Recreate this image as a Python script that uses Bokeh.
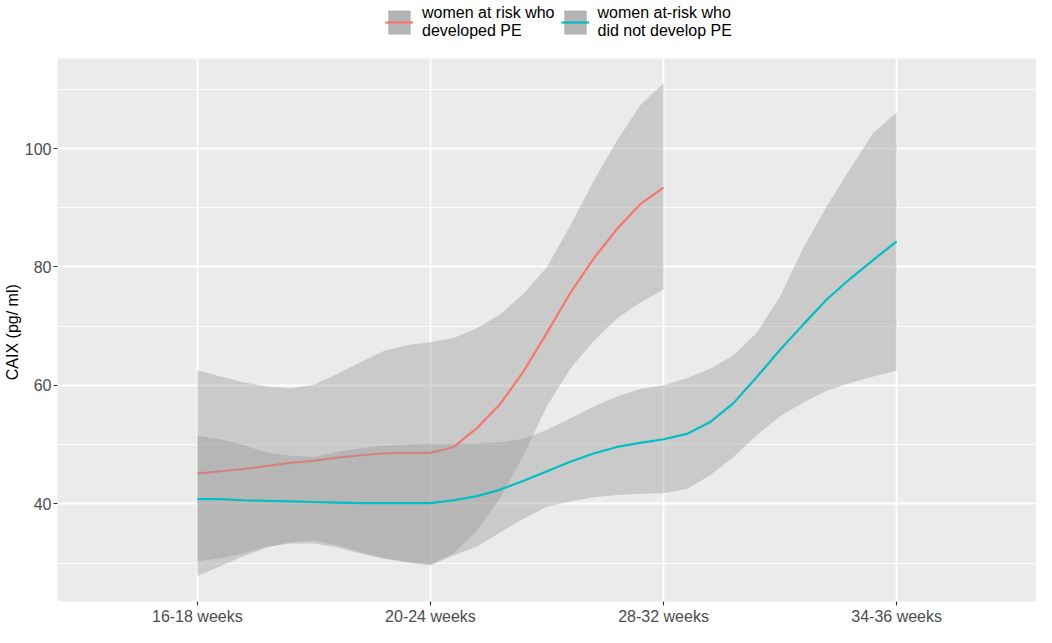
from bokeh.plotting import figure
from bokeh.layouts import column
from bokeh.models import Range1d, FixedTicker, Legend, LegendItem, ColumnDataSource
from bokeh.embed import file_html
from bokeh.resources import INLINE

# ---- data ----
categories = ["16-18 weeks", "20-24 weeks", "28-32 weeks", "34-36 weeks"]
cat_pos = [1, 2, 3, 4]

# women at risk who developed PE (smoothed fit and confidence band)
x_pe = [1.0, 1.1, 1.2, 1.3, 1.4, 1.5, 1.6, 1.7, 1.8, 1.9, 2.0,
        2.1, 2.2, 2.3, 2.4, 2.5, 2.6, 2.7, 2.8, 2.9, 3.0]
pe_fit = [45.1, 45.5, 45.9, 46.4, 46.9, 47.3, 47.8, 48.2, 48.5, 48.6, 48.6,
          49.6, 52.8, 56.9, 62.4, 68.9, 75.6, 81.4, 86.4, 90.6, 93.4]
pe_upper = [62.5, 61.5, 60.5, 59.8, 59.5, 60.1, 61.9, 63.9, 65.8, 66.8, 67.3,
            68.0, 69.7, 72.0, 75.5, 80.0, 87.0, 94.5, 101.3, 107.3, 111.0]
pe_lower = [27.8, 29.5, 31.2, 32.6, 33.5, 33.8, 33.0, 31.8, 30.8, 30.2, 29.8,
            31.6, 35.5, 41.0, 48.3, 56.5, 62.8, 67.5, 71.3, 74.0, 76.2]

# women at-risk who did not develop PE
x_nope = [1.0, 1.1, 1.2, 1.3, 1.4, 1.5, 1.6, 1.7, 1.8, 1.9, 2.0,
          2.1, 2.2, 2.3, 2.4, 2.5, 2.6, 2.7, 2.8, 2.9, 3.0,
          3.1, 3.2, 3.3, 3.4, 3.5, 3.6, 3.7, 3.8, 3.9, 4.0]
nope_fit = [40.8, 40.8, 40.6, 40.5, 40.4, 40.3, 40.2, 40.1, 40.1, 40.1, 40.1,
            40.6, 41.3, 42.4, 43.9, 45.5, 47.1, 48.5, 49.6, 50.3, 50.9,
            51.8, 53.8, 57.0, 61.4, 66.0, 70.3, 74.5, 78.0, 81.2, 84.3]
nope_upper = [51.5, 50.9, 49.9, 48.6, 48.1, 47.9, 48.8, 49.4, 49.8, 50.0, 50.1,
              50.1, 50.2, 50.4, 51.0, 52.5, 54.4, 56.4, 58.1, 59.4, 60.0,
              61.2, 62.8, 65.1, 68.9, 75.0, 83.3, 90.2, 96.6, 102.6, 106.1]
nope_lower = [30.3, 30.8, 31.6, 32.8, 33.3, 33.3, 32.6, 31.6, 30.7, 30.1, 29.6,
              31.3, 32.8, 35.2, 37.5, 39.5, 40.4, 41.1, 41.5, 41.7, 41.8,
              42.5, 44.8, 47.9, 51.6, 54.8, 57.1, 59.1, 60.4, 61.5, 62.5]

y_major = [40, 60, 80, 100]
y_minor = [30, 50, 70, 90, 110]

label_pe = "women at risk who\ndeveloped PE"
label_nope = "women at-risk who\ndid not develop PE"

RED = "#F8766D"
BLUE = "#00BFC4"
FONT = "Liberation Sans"

src_pe = ColumnDataSource(dict(x=x_pe, fit=pe_fit, lo=pe_lower, hi=pe_upper))
src_nope = ColumnDataSource(dict(x=x_nope, fit=nope_fit, lo=nope_lower, hi=nope_upper))

# ---------------- main plot ----------------
p = figure(width=1036, height=583, output_backend="svg", toolbar_location=None,
           x_range=Range1d(0.4, 4.6), y_range=Range1d(23.5, 115.2),
           min_border_left=50, min_border_right=0, min_border_top=14,
           min_border_bottom=20)

p.background_fill_color = "#EBEBEB"
p.border_fill_color = "white"
p.outline_line_color = None

p.varea(x="x", y1="lo", y2="hi", source=src_pe, fill_color="#999999", fill_alpha=0.4)
p.line(x="x", y="fit", source=src_pe, line_color=RED, line_width=2.2)
p.varea(x="x", y1="lo", y2="hi", source=src_nope, fill_color="#999999", fill_alpha=0.4)
p.line(x="x", y="fit", source=src_nope, line_color=BLUE, line_width=2.2)

p.xaxis.ticker = FixedTicker(ticks=cat_pos)
p.xaxis.major_label_overrides = {pos: lab for pos, lab in zip(cat_pos, categories)}
p.yaxis.ticker = FixedTicker(ticks=y_major, minor_ticks=y_minor)
p.yaxis.axis_label = "CAIX  (pg/ ml)"

for ax in (p.xaxis, p.yaxis):
    ax.axis_line_color = None
    ax.major_tick_line_color = "#333333"
    ax.major_tick_line_width = 1.1
    ax.major_tick_in = 0
    ax.major_tick_out = 4
    ax.minor_tick_line_color = None
    ax.major_label_text_font = FONT
    ax.major_label_text_font_size = "16px"
    ax.major_label_text_color = "#4D4D4D"
    ax.major_label_standoff = 2
    ax.axis_label_text_font = FONT
    ax.axis_label_text_font_size = "16px"
    ax.axis_label_text_font_style = "normal"
    ax.axis_label_text_color = "black"
    ax.axis_label_standoff = 1

p.xgrid.grid_line_color = "white"
p.xgrid.grid_line_width = 1.8
p.ygrid.grid_line_color = "white"
p.ygrid.grid_line_width = 1.8
p.ygrid.minor_grid_line_color = "white"
p.ygrid.minor_grid_line_width = 0.9

# ---------------- legend strip above the plot ----------------
# the key renderers reuse the series data but sit outside this strip's ranges,
# so only their legend swatches are visible
lg = figure(width=1036, height=44, output_backend="svg", toolbar_location=None,
            x_axis_type=None, y_axis_type=None, min_border=0,
            x_range=Range1d(-20, -10), y_range=Range1d(-20, -10))
lg.outline_line_color = None
lg.background_fill_color = "white"
lg.xgrid.visible = False
lg.ygrid.visible = False

k1 = lg.varea(x="x", y1="lo", y2="hi", source=src_pe, fill_color="#B4B4B4")
l1 = lg.line(x="x", y="fit", source=src_pe, line_color=RED, line_width=2.2)
k2 = lg.varea(x="x", y1="lo", y2="hi", source=src_nope, fill_color="#B4B4B4")
l2 = lg.line(x="x", y="fit", source=src_nope, line_color=BLUE, line_width=2.2)

legend = Legend(items=[LegendItem(label=label_pe, renderers=[k1, l1]),
                       LegendItem(label=label_nope, renderers=[k2, l2])],
                orientation="horizontal", location=(328, 4),
                border_line_color=None, background_fill_alpha=0,
                label_text_font=FONT, label_text_font_size="16px", label_text_color="black",
                label_text_line_height=1.0,
                glyph_width=28, glyph_height=30, label_standoff=9, spacing=6,
                padding=0, margin=0)
lg.add_layout(legend)

layout = column(lg, p, spacing=0)
open("out.html", "w").write(file_html(layout, INLINE))
